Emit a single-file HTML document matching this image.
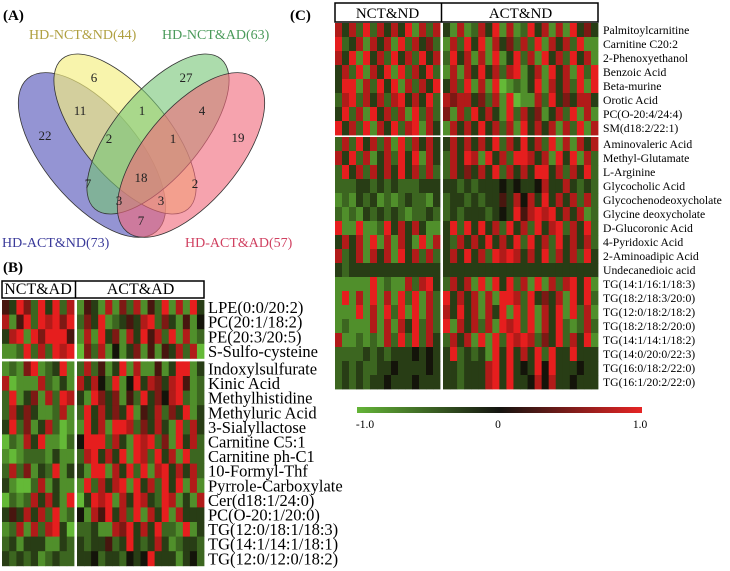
<!DOCTYPE html>
<html><head><meta charset="utf-8"><style>
body{margin:0;background:#fff}
svg{display:block;font-family:"Liberation Serif",serif}
</style></head><body>
<svg id="fig" width="730" height="571" viewBox="0 0 730 571">
<g>
<text x="3" y="20" font-size="15" font-weight="bold">(A)</text>
<ellipse cx="92" cy="155" rx="47" ry="100" transform="rotate(-40 92 155)" fill="#7070c4" fill-opacity="0.75" stroke="#333" stroke-width="0.8"/>
<ellipse cx="125" cy="134" rx="43" ry="98" transform="rotate(-40 125 134)" fill="#f4ee80" fill-opacity="0.65" stroke="#333" stroke-width="0.8"/>
<ellipse cx="158" cy="134" rx="43" ry="98" transform="rotate(40 158 134)" fill="#74c474" fill-opacity="0.6" stroke="#333" stroke-width="0.8"/>
<ellipse cx="191" cy="155" rx="47" ry="100" transform="rotate(40 191 155)" fill="#f06a7c" fill-opacity="0.62" stroke="#333" stroke-width="0.8"/>
<g font-size="13" fill="#222" text-anchor="middle">
<text x="94" y="82">6</text><text x="186" y="82">27</text>
<text x="80" y="115">11</text><text x="142" y="115">1</text><text x="202" y="115">4</text>
<text x="45" y="140">22</text><text x="109" y="143">2</text><text x="173" y="143">1</text><text x="238" y="142">19</text>
<text x="141" y="182">18</text><text x="88" y="188">7</text><text x="195" y="188">2</text>
<text x="119" y="205">3</text><text x="161" y="205">3</text><text x="141" y="225">7</text>
</g>
<text x="29" y="39" font-size="14" fill="#b0a040">HD-NCT&amp;ND(44)</text>
<text x="162" y="39" font-size="14" fill="#4a9a5a">HD-NCT&amp;AD(63)</text>
<text x="2" y="247" font-size="14" fill="#3a3a9a">HD-ACT&amp;ND(73)</text>
<text x="185" y="247" font-size="14" fill="#d04060">HD-ACT&amp;AD(57)</text>
</g>
<text x="3" y="272" font-size="15" font-weight="bold">(B)</text>
<text x="290" y="20" font-size="15" font-weight="bold">(C)</text>
<g id="hb"></g>
<g id="hc"></g>
<defs><linearGradient id="cg" x1="0" x2="1"><stop offset="0" stop-color="#64b437"/><stop offset="0.5" stop-color="#141410"/><stop offset="1" stop-color="#e62424"/></linearGradient></defs>
<rect x="357" y="407" width="285" height="6" fill="url(#cg)"/>
<g font-size="11.5" text-anchor="middle">
<text x="365" y="428">-1.0</text><text x="498" y="428">0</text><text x="640" y="428">1.0</text>
</g>
</svg>
<script>
const bGroups = ["NCT&AD","ACT&AD"];
const bRows = ["LPE(0:0/20:2)","PC(20:1/18:2)","PE(20:3/20:5)","S-Sulfo-cysteine","Indoxylsulfurate","Kinic Acid","Methylhistidine","Methyluric Acid","3-Sialyllactose","Carnitine C5:1","Carnitine ph-C1","10-Formyl-Thf","Pyrrole-Carboxylate","Cer(d18:1/24:0)","PC(O-20:1/20:0)","TG(12:0/18:1/18:3)","TG(14:1/14:1/18:1)","TG(12:0/12:0/18:2)"];
const bValues = [
"5386283827153171627152817183","7158287868263812353782631514","3781868885171836173857281712","1128272878062714136151537270",
"1216812381272513817115138813","7011172131737428148376378512","2813617287318636152836478212","2736311271283736381537263813",
"3826137201183718872637318273","0217381102488827318782618372","1012221311278373818728371822","2726132813318817382817837372",
"3100271311182737818372838171","0212737318038781738732871317","3537372812417583728173817333","1271727830223117683738221813",
"2313331132323352383237312332","3232312322334233243483331342"];
const cGroups = ["NCT&ND","ACT&ND"];
const cRows = ["Palmitoylcarnitine","Carnitine C20:2","2-Phenoxyethanol","Benzoic Acid","Beta-murine","Orotic Acid","PC(O-20:4/24:4)","SM(d18:2/22:1)","Aminovaleric Acid","Methyl-Glutamate","L-Arginine","Glycocholic Acid","Glycochenodeoxycholate","Glycine deoxycholate","D-Glucoronic Acid","4-Pyridoxic Acid","2-Aminoadipic Acid","Undecanedioic acid","TG(14:1/16:1/18:3)","TG(18:2/18:3/20:0)","TG(12:0/18:2/18:2)","TG(18:2/18:2/20:0)","TG(14:1/14:1/18:2)","TG(14:0/20:0/22:3)","TG(16:0/18:2/22:0)","TG(16:1/20:2/22:0)"];
const cValues = [
"7372827373817273171273817128371718363","8237173718273621728381736272817372811","7381837283728372837171813827183728371",
"3728173818273821717383727813718371828","3881728381727383728171801213817372818","2782737278373827677362718011728363773",
"3827183727182726172837318273613728171","8372817382781731737383727183737172817","2728372718273733737373827383728171737",
"7382713728381732738718372887371838172","2837273738372722736373827373883727382","2223323232223333323233343433473373232",
"1213231212322132332323353747383737272","2121323232122322323332343857878373712","8118112837373113828383728372837827382",
"3737181717318173273738373828372837372","7237173718372723738372878737382737283","3233333333333333333333333333333333333",
"1111181211727832737181838271817278381","1817181718281728373717188728363718382","1118171828181727383717381828173818271",
"1211171717382728173727187828173821272","7112121728282732737181828787263827381","2222323233343433823231838373828338333",
"2323223343333433323337838343848333433","2323233433343333323337838334747334333"];
function col(d){const v=(d-4)/4;let r,g,b;
 if(v<0){const t=-v;r=20+(100-20)*t;g=20+(185-20)*t;b=10+(55-10)*t;}else{r=20+(230-20)*v;g=20+(30-20)*v;b=10+(30-10)*v;}
 return `rgb(${r|0},${g|0},${b|0})`;}
const NS="http://www.w3.org/2000/svg";
function mk(tag,attrs,parent){const e=document.createElementNS(NS,tag);for(const k in attrs)e.setAttribute(k,attrs[k]);parent.appendChild(e);return e;}
function heat(g,opt,rows,vals,groups){
 const leftW=opt.split-opt.x0, rightW=opt.x1-opt.split-opt.gap;
 const hb=mk('rect',{x:opt.x0,y:opt.hy,width:opt.x1-opt.x0,height:opt.hh,fill:'#fff',stroke:'#000','stroke-width':1.5},g);
 
 
 mk('line',{x1:opt.split+opt.gap/2,x2:opt.split+opt.gap/2,y1:opt.hy,y2:opt.hy+opt.hh,stroke:'#000','stroke-width':1.5},g);
 groups.forEach((gn,i)=>{const cx=i==0?(opt.x0+opt.split)/2:(opt.split+opt.gap+opt.x1)/2;
  const t=mk('text',{x:cx,y:opt.hy+opt.hh-4,'font-size':opt.hf,'text-anchor':'middle'},g);t.textContent=gn;
  
  });
 rows.forEach((name,r)=>{
  const y=opt.y0+r*opt.rh+(r>=opt.sepRow?opt.sepGap:0);
  const s=vals[r];
  for(let c=0;c<opt.nl+opt.nr;c++){
   const d=+s[c]; let x,w;
   if(c<opt.nl){w=leftW/opt.nl;x=opt.x0+c*w;}else{w=rightW/opt.nr;x=opt.split+opt.gap+(c-opt.nl)*w;}
   const rc=mk('rect',{x:x,y:y,width:w+0.4,height:opt.rh+0.4,fill:col(d)},g);
   
   
  }
  const t=mk('text',{x:opt.lx,y:y+opt.rh/2+opt.lf*0.35,'font-size':opt.lf},g);t.textContent=name;
  
  
 });
}
heat(document.getElementById('hb'),{x0:2,x1:204,split:74,gap:3,hy:281,hh:17,hf:16,y0:300,rh:14.6,sepRow:4,sepGap:3,nl:10,nr:18,lx:208,lf:16.5},bRows,bValues,bGroups);
heat(document.getElementById('hc'),{x0:335,x1:598,split:440,gap:3,hy:3,hh:19,hf:15,y0:23,rh:14,sepRow:8,sepGap:2,nl:15,nr:22,lx:603,lf:11.7},cRows,cValues,cGroups);
</script>
</body></html>
